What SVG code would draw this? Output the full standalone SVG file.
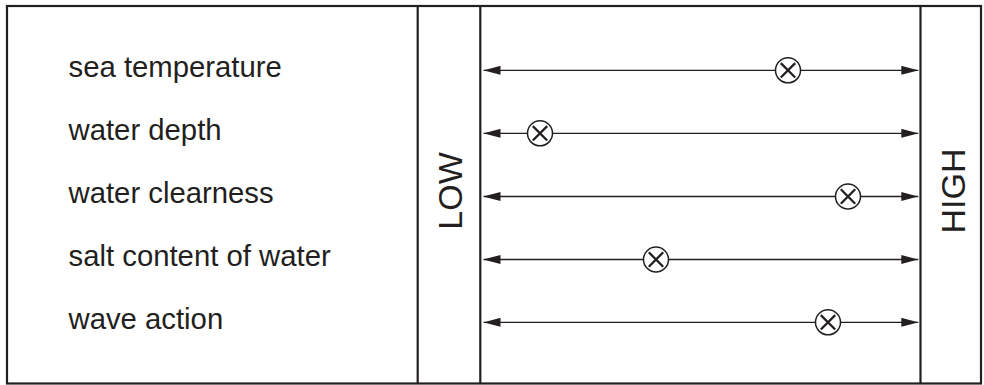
<svg xmlns="http://www.w3.org/2000/svg" width="984" height="385" viewBox="0 0 984 385">
<style>
.frame{fill:none;stroke:#231f20;stroke-width:2.2}
.lbl{font-family:"Liberation Sans",Arial,sans-serif;font-size:29.3px;fill:#231f20}
.big{font-family:"Liberation Sans",Arial,sans-serif;font-size:34px;fill:#231f20}
.axis{stroke:#231f20;stroke-width:1.3;fill:none}
</style>
<defs>
<marker id="ah" markerWidth="17" markerHeight="9" refX="17" refY="4.5" orient="auto-start-reverse" markerUnits="userSpaceOnUse">
<path d="M0,0 L17,4.5 L0,9 Z" fill="#231f20"/>
</marker>
<g id="x"><circle r="12.5" fill="#ffffff" stroke="#231f20" stroke-width="1.5"/><path d="M-7.2,-7.2 L7.2,7.2 M-7.2,7.2 L7.2,-7.2" stroke="#231f20" stroke-width="2.3" fill="none"/></g>
</defs>
<g id="frame">
<rect class="frame" x="7" y="6" width="974" height="377.5"/>
<line class="frame" x1="417.7" y1="6" x2="417.7" y2="383.5"/>
<line class="frame" x1="480.3" y1="6" x2="480.3" y2="383.5"/>
<line class="frame" x1="920.5" y1="6" x2="920.5" y2="383.5"/>
</g>
<g id="low"><text class="big" transform="translate(461.5,191) rotate(-90)" text-anchor="middle">LOW</text></g>
<g id="high"><text class="big" transform="translate(965,191) rotate(-90)" text-anchor="middle">HIGH</text></g>
<g id="labels">
<text class="lbl" x="68.5" y="77">sea temperature</text>
<text class="lbl" x="68.5" y="140">water depth</text>
<text class="lbl" x="68.5" y="203">water clearness</text>
<text class="lbl" x="68.5" y="266">salt content of water</text>
<text class="lbl" x="68.5" y="329">wave action</text>
</g>
<g id="connectors">
<line class="axis" x1="483.5" y1="70.3" x2="918.3" y2="70.3" marker-start="url(#ah)" marker-end="url(#ah)"/>
<line class="axis" x1="483.5" y1="133.3" x2="918.3" y2="133.3" marker-start="url(#ah)" marker-end="url(#ah)"/>
<line class="axis" x1="483.5" y1="196.5" x2="918.3" y2="196.5" marker-start="url(#ah)" marker-end="url(#ah)"/>
<line class="axis" x1="483.5" y1="259.5" x2="918.3" y2="259.5" marker-start="url(#ah)" marker-end="url(#ah)"/>
<line class="axis" x1="483.5" y1="322.3" x2="918.3" y2="322.3" marker-start="url(#ah)" marker-end="url(#ah)"/>
</g>
<g id="markers">
<use href="#x" x="788" y="70.3"/>
<use href="#x" x="540" y="133.3"/>
<use href="#x" x="848" y="196.5"/>
<use href="#x" x="656" y="259.5"/>
<use href="#x" x="828" y="322.3"/>
</g>
</svg>
